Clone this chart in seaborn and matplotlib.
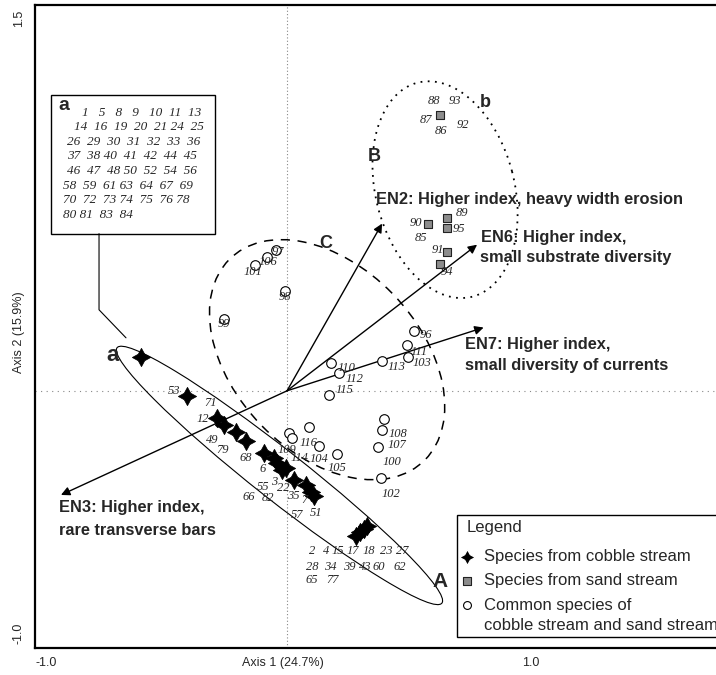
import pandas as pd
import seaborn as sns
import matplotlib.pyplot as plt
from matplotlib.patches import Ellipse, Rectangle
from matplotlib.transforms import blended_transform_factory

sns.set_style("white")
plt.rcParams['font.family'] = ['Liberation Sans', 'DejaVu Sans']

# species scores (axis 1, axis 2)
cobble_x = [-0.579, -0.397, -0.278, -0.250, -0.202, -0.163, -0.091, -0.052,
            -0.040, -0.020, -0.004, 0.028, 0.075, 0.095, 0.107,
            0.274, 0.290, 0.306, 0.317]
cobble_y = [0.132, -0.019, -0.105, -0.132, -0.160, -0.195, -0.241, -0.261,
            -0.280, -0.307, -0.300, -0.346, -0.366, -0.393, -0.409,
            -0.564, -0.549, -0.537, -0.525]

sand_x = [0.607, 0.560, 0.635, 0.635, 0.635, 0.607]
sand_y = [1.074, 0.650, 0.673, 0.634, 0.541, 0.494]

common_ids = [97, 106, 101, 98, 99, 96, 111, 103, 113, 110, 112, 115,
              108, 107, 100, 102, 116, 109, 114, 104, 105]
common_x = [-0.044, -0.079, -0.127, -0.008, -0.250, 0.504, 0.476, 0.480,
            0.377, 0.175, 0.206, 0.167, 0.385, 0.377, 0.361, 0.373,
            0.087, 0.008, 0.020, 0.127, 0.198]
common_y = [0.549, 0.521, 0.490, 0.389, 0.280, 0.233, 0.179, 0.132,
            0.117, 0.109, 0.070, -0.016, -0.109, -0.152, -0.218, -0.339,
            -0.140, -0.163, -0.183, -0.214, -0.245]

# environmental vectors
env_x = [0.377, -0.897, 0.754, 0.780]
env_y = [0.650, -0.405, 0.568, 0.246]

# species number labels: text, x, y
num_labels = [
    ("53", -0.448, 0.000), ("71", -0.302, -0.047), ("12", -0.333, -0.109),
    ("49", -0.298, -0.191), ("79", -0.258, -0.230), ("68", -0.163, -0.261),
    ("6", -0.095, -0.304), ("55", -0.095, -0.374), ("3", -0.052, -0.354),
    ("22", -0.016, -0.377), ("35", 0.024, -0.409), ("66", -0.151, -0.412),
    ("82", -0.075, -0.416), ("7", 0.067, -0.424), ("57", 0.040, -0.482),
    ("51", 0.115, -0.475),
    ("2", 0.099, -0.623), ("4", 0.155, -0.623), ("15", 0.202, -0.623),
    ("17", 0.262, -0.623), ("18", 0.325, -0.623), ("23", 0.393, -0.623),
    ("27", 0.456, -0.623),
    ("28", 0.099, -0.685), ("34", 0.171, -0.685), ("39", 0.246, -0.685),
    ("43", 0.310, -0.685), ("60", 0.365, -0.685), ("62", 0.448, -0.685),
    ("65", 0.099, -0.735), ("77", 0.179, -0.735),
    ("97", -0.036, 0.541), ("106", -0.075, 0.502), ("101", -0.135, 0.463),
    ("98", -0.008, 0.366), ("99", -0.250, 0.261), ("96", 0.552, 0.218),
    ("111", 0.524, 0.152), ("103", 0.536, 0.109), ("113", 0.433, 0.093),
    ("110", 0.234, 0.089), ("112", 0.266, 0.047), ("115", 0.226, 0.004),
    ("108", 0.440, -0.167), ("107", 0.437, -0.210), ("100", 0.417, -0.276),
    ("102", 0.413, -0.401), ("116", 0.087, -0.202), ("109", 0.000, -0.230),
    ("114", 0.048, -0.262), ("104", 0.128, -0.264), ("105", 0.198, -0.300),
    ("88", 0.583, 1.125), ("93", 0.667, 1.125), ("87", 0.552, 1.054),
    ("86", 0.611, 1.012), ("92", 0.698, 1.035), ("90", 0.512, 0.654),
    ("89", 0.694, 0.693), ("95", 0.683, 0.630), ("85", 0.532, 0.595),
    ("91", 0.599, 0.549), ("94", 0.635, 0.463),
]

box_rows = ["1   5   8   9   10  11  13",
            "14  16  19  20  21 24  25",
            "26  29  30  31  32  33  36",
            "37  38 40  41  42  44  45",
            "46  47  48 50  52  54  56",
            "58  59  61 63  64  67  69",
            "70  72  73 74  75  76 78",
            "80 81  83  84"]
box_row_x = [-0.813, -0.845, -0.873, -0.873, -0.873, -0.889, -0.889, -0.889]

cobble = pd.DataFrame({"axis1": cobble_x, "axis2": cobble_y})
sand = pd.DataFrame({"axis1": sand_x, "axis2": sand_y})
common = pd.DataFrame({"axis1": common_x, "axis2": common_y, "id": common_ids})

fig = plt.figure(figsize=(7.16, 6.75), dpi=100)
ax = fig.add_axes([0.0489, 0.04, 0.9511, 0.9526])
ax.set_xlim(-1.0, 1.702)
ax.set_ylim(-1.0, 1.5)

ax.axvline(0, color='#888888', ls=(0, (1, 2)), lw=0.8, zorder=1)
ax.axhline(0, color='#888888', ls=(0, (1, 4)), lw=0.8, zorder=1)

# group ellipses
ax.add_patch(Ellipse((-0.030, -0.329), 1.627, 0.195, angle=-37.6,
                     fill=False, ec='black', lw=0.8, zorder=2))
ax.add_patch(Ellipse((0.159, 0.121), 1.10, 0.73, angle=-45,
                     fill=False, ec='black', lw=1.1, ls=(0, (6, 5)), zorder=2))
ax.add_patch(Ellipse((0.627, 0.782), 0.86, 0.55, angle=105,
                     fill=False, ec='black', lw=1.3, ls=(0, (1, 3)), zorder=2))

# environmental arrows
for ex, ey in zip(env_x, env_y):
    ax.annotate("", xy=(ex, ey), xytext=(0, 0),
                arrowprops=dict(arrowstyle='-|>', color='black', lw=1.0,
                                mutation_scale=13, shrinkA=0, shrinkB=0),
                zorder=3)

sns.scatterplot(data=common, x="axis1", y="axis2", marker='o', s=48,
                facecolor='white', edgecolor='black', linewidth=0.8,
                ax=ax, legend=False, zorder=4)
sns.scatterplot(data=sand, x="axis1", y="axis2", marker='s', s=34,
                color='#8c8c8c', edgecolor='#222222', linewidth=0.8,
                ax=ax, legend=False, zorder=4)
sns.scatterplot(data=cobble, x="axis1", y="axis2", marker=(4, 1, 0), s=170,
                color='black', edgecolor='black', linewidth=0.6,
                ax=ax, legend=False, zorder=5)

serif = dict(family=['Liberation Serif', 'DejaVu Serif'], style='italic')
for txt, lx, ly in num_labels:
    ax.text(lx, ly, txt, fontsize=9, ha='center', va='center',
            zorder=6, **serif)

# group letters
for txt, lx, ly, fs in [("a", -0.694, 0.136, 16), ("b", 0.786, 1.121, 13),
                        ("B", 0.345, 0.911, 13), ("C", 0.155, 0.572, 13),
                        ("A", 0.607, -0.743, 15)]:
    ax.text(lx, ly, txt, fontsize=fs, fontweight='bold', ha='center',
            va='center', zorder=6)

# vector captions
en_text = [("EN2: Higher index, heavy width erosion", 0.353, 0.743),
           ("EN6: Higher index,", 0.770, 0.595),
           ("small substrate diversity", 0.766, 0.518),
           ("EN7: Higher index,", 0.706, 0.179),
           ("small diversity of currents", 0.706, 0.097),
           ("EN3: Higher index,", -0.905, -0.455),
           ("rare transverse bars", -0.905, -0.545)]
for txt, lx, ly in en_text:
    ax.text(lx, ly, txt, fontsize=11.8, fontweight='bold', ha='left',
            va='center', zorder=6)

# box listing species at point a
ax.add_patch(Rectangle((-0.937, 0.611), 0.651, 0.541, fc='white',
                       ec='black', lw=1.0, zorder=6))
ax.plot([-0.746, -0.746, -0.639], [0.611, 0.315, 0.206], color='black',
        lw=0.8, zorder=6)
ax.text(-0.885, 1.109, "a", fontsize=14, fontweight='bold', ha='center',
        va='center', zorder=7)
row_y = 1.082
for row, rx in zip(box_rows, box_row_x):
    ax.text(rx, row_y, row, fontsize=9.5, ha='left', va='center',
            zorder=7, **serif)
    row_y -= 0.057

# legend box
ax.add_patch(Rectangle((0.675, -0.957), 1.2, 0.475, fc='white', ec='black',
                       lw=1.0, zorder=6))
ax.text(0.714, -0.533, "Legend", fontsize=12, ha='left', va='center',
        zorder=7)
leg = pd.DataFrame({"axis1": [0.716, 0.716, 0.716],
                    "axis2": [-0.646, -0.739, -0.833]})
sns.scatterplot(data=leg.iloc[[0]], x="axis1", y="axis2", marker=(4, 1, 0),
                s=130, color='black', ax=ax, legend=False, zorder=7)
sns.scatterplot(data=leg.iloc[[1]], x="axis1", y="axis2", marker='s', s=30,
                color='#8c8c8c', edgecolor='#222222', linewidth=0.8,
                ax=ax, legend=False, zorder=7)
sns.scatterplot(data=leg.iloc[[2]], x="axis1", y="axis2", marker='o', s=32,
                facecolor='white', edgecolor='black', linewidth=0.8,
                ax=ax, legend=False, zorder=7)
for txt, ly in [("Species from cobble stream", -0.646),
                ("Species from sand stream", -0.739),
                ("Common species of", -0.833),
                ("cobble stream and sand stream", -0.911)]:
    ax.text(0.782, ly, txt, fontsize=12, ha='left', va='center', zorder=7)

# axes frame and ticks
for side in ['left', 'bottom', 'top']:
    ax.spines[side].set_linewidth(1.6)
    ax.spines[side].set_color('black')
ax.spines['right'].set_visible(False)
ax.set_xticks([-1.0, -0.5, 0.0, 0.5, 1.0, 1.5])
ax.set_yticks([-1.0, -0.5, 0.0, 0.5, 1.0, 1.5])
ax.set_xticklabels([])
ax.set_yticklabels([])
ax.tick_params(direction='inout', length=6, width=1.0, color='black')
ax.set_xlabel("")
ax.set_ylabel("")

bx = blended_transform_factory(ax.transData, fig.transFigure)
for txt, lx in [("-1.0", -0.955), ("Axis 1 (24.7%)", -0.016), ("1.0", 0.968)]:
    fig.text(lx, 0.018, txt, fontsize=9, ha='center', va='center',
             transform=bx)
by = blended_transform_factory(fig.transFigure, ax.transData)
for txt, ly in [("1.5", 1.448), ("Axis 2 (15.9%)", 0.226), ("-1.0", -0.941)]:
    fig.text(0.0265, ly, txt, fontsize=9, rotation=90, ha='center',
             va='center', transform=by)

fig.savefig("out.png", dpi=100)
